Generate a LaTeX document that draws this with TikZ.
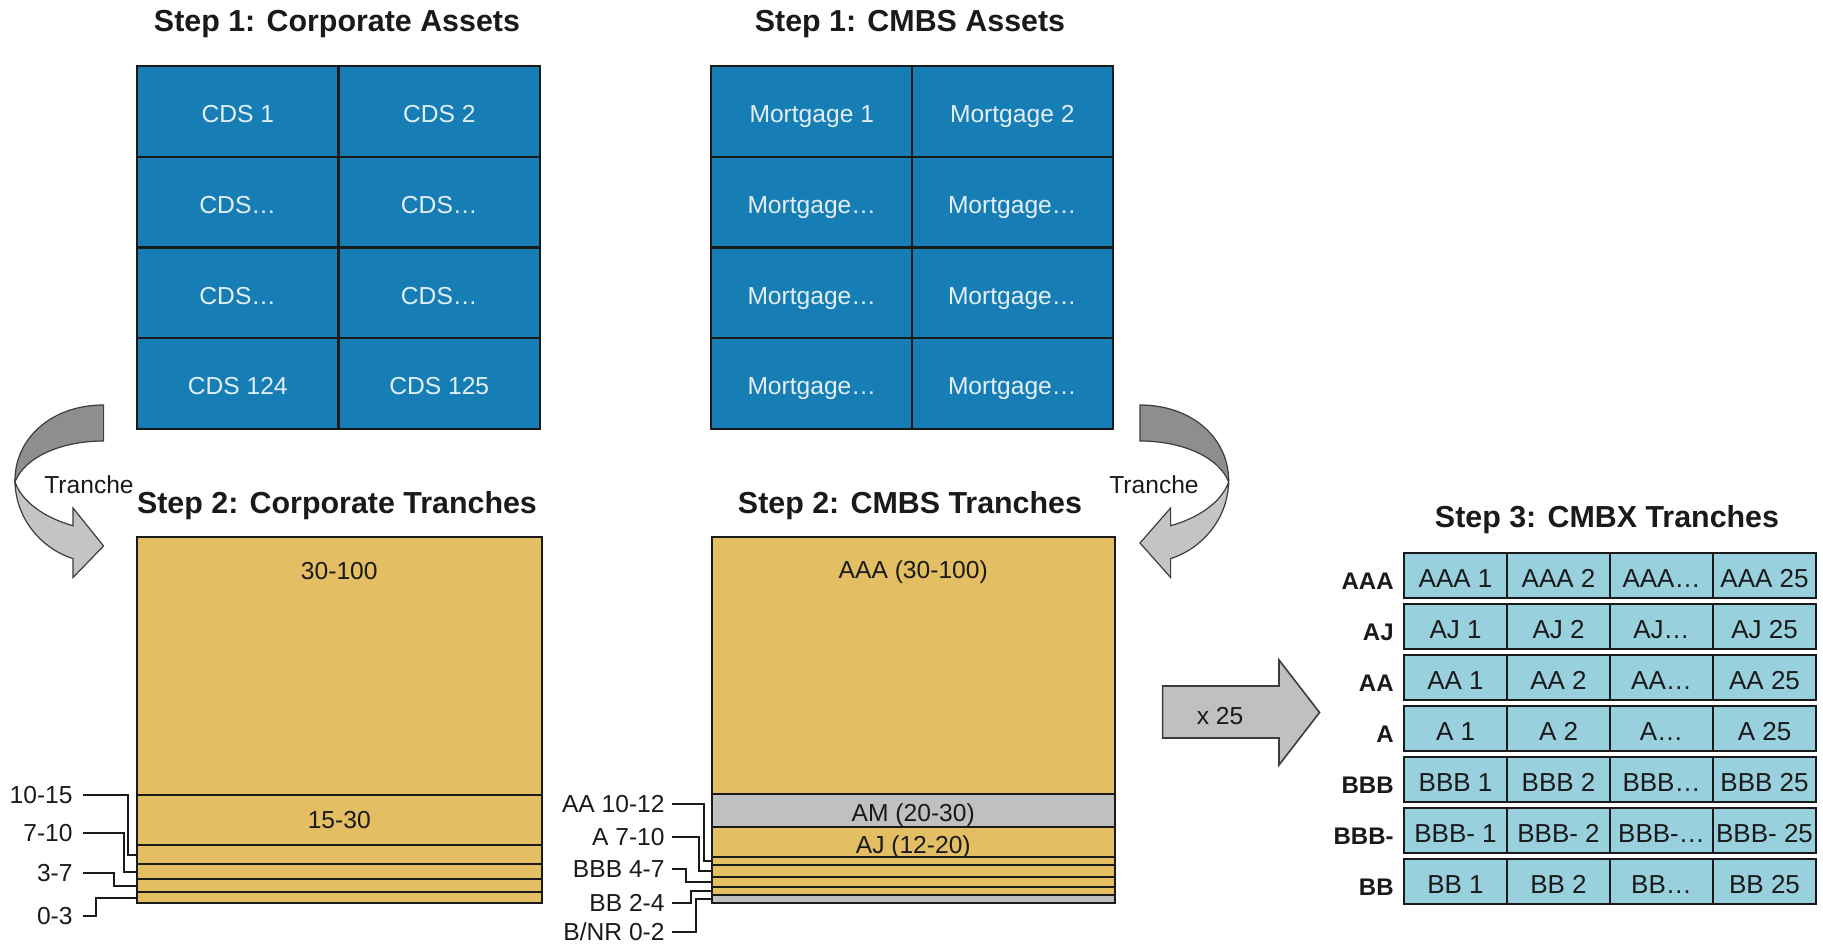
\documentclass[tikz,border=0pt]{standalone}
\usepackage{fontspec}
\setmainfont{Liberation Sans}
\definecolor{cblue}{RGB}{23,125,181}
\definecolor{cyel}{RGB}{228,190,98}
\definecolor{cgray}{RGB}{192,192,192}
\definecolor{cteal}{RGB}{152,208,222}
\definecolor{cline}{RGB}{26,26,26}
\definecolor{adark}{RGB}{142,142,142}
\definecolor{alight}{RGB}{196,196,196}
\definecolor{aedge}{RGB}{60,60,60}
\tikzset{
  every node/.style={font=\fontsize{12.3}{14}\selectfont, text=cline},
  steptitle/.style={font=\fontsize{15.2}{18}\selectfont\bfseries},
  bcell/.style={draw=cline, fill=cblue, line width=1pt, inner sep=0pt,
    minimum width=100.5pt, minimum height=45.375pt, text=white!88!cblue,
    text height=11.3pt, text depth=0pt},
  band/.style={draw=cline, fill=cyel, line width=1pt, inner sep=0pt},
  gband/.style={band, fill=cgray},
  lowtext/.style={text height=11pt, text depth=0pt},
  conn/.style={draw=cline, line width=1pt},
  corplab/.style={anchor=east, inner sep=5pt},
  cmbslab/.style={anchor=east, inner sep=3.5pt},
  tcell/.style={draw=cline, fill=cteal, line width=1pt, inner sep=0pt,
    minimum width=51.5pt, minimum height=22.5pt, font=\fontsize{13}{15}\selectfont,
    text height=12.3pt, text depth=0pt},
  rowlab/.style={anchor=east, inner sep=2pt, font=\fontsize{12}{14}\selectfont\bfseries},
  arrdark/.style={fill=adark, draw=aedge, line width=0.6pt},
  arrlight/.style={fill=alight, draw=aedge, line width=0.6pt},
  bigarrow/.style={fill=cgray, draw=aedge, line width=0.8pt}
}
\begin{document}
\begin{tikzpicture}[x=0.5pt, y=-0.5pt]
\useasboundingbox (0,0) rectangle (1823,945);

% ---------- titles ----------
\node[steptitle] (t1a) at (337,24) {Step 1: Corporate Assets};
\node[steptitle] (t1b) at (910,24) {Step 1: CMBS Assets};
\node[steptitle] (t2a) at (337,506) {Step 2: Corporate Tranches};
\node[steptitle] (t2b) at (910,506) {Step 2: CMBS Tranches};
\node[steptitle] (t3) at (1607,520) {Step 3: CMBX Tranches};

% ---------- step 1 grids ----------
\node[bcell] (ca1) at (237.75,111.4) {CDS 1};
\node[bcell] (ca2) at (439.25,111.4) {CDS 2};
\node[bcell] (ca3) at (237.75,202.1) {CDS…};
\node[bcell] (ca4) at (439.25,202.1) {CDS…};
\node[bcell] (ca5) at (237.75,292.9) {CDS…};
\node[bcell] (ca6) at (439.25,292.9) {CDS…};
\node[bcell] (ca7) at (237.75,383.6) {CDS 124};
\node[bcell] (ca8) at (439.25,383.6) {CDS 125};

\node[bcell] (cm1) at (811.75,111.4) {Mortgage 1};
\node[bcell] (cm2) at (1012.25,111.4) {Mortgage 2};
\node[bcell] (cm3) at (811.75,202.1) {Mortgage…};
\node[bcell] (cm4) at (1012.25,202.1) {Mortgage…};
\node[bcell] (cm5) at (811.75,292.9) {Mortgage…};
\node[bcell] (cm6) at (1012.25,292.9) {Mortgage…};
\node[bcell] (cm7) at (811.75,383.6) {Mortgage…};
\node[bcell] (cm8) at (1012.25,383.6) {Mortgage…};

% ---------- curved arrows ----------
\path[arrdark] (103.6,405) .. controls (50,405) and (14,440) .. (15,482)
  .. controls (24,458) and (60,441) .. (103.6,441) -- cycle;
\path[arrlight] (15,482) .. controls (16,522) and (45,550) .. (73,558.6)
  -- (73,577.5) -- (103.6,546) -- (73,508) -- (73,525.7)
  .. controls (45,518) and (22,502) .. (15,482) -- cycle;
\begin{scope}[shift={(1243.6,0)}, xscale=-1]
\path[arrdark] (103.6,405) .. controls (50,405) and (14,440) .. (15,482)
  .. controls (24,458) and (60,441) .. (103.6,441) -- cycle;
\path[arrlight] (15,482) .. controls (16,522) and (45,550) .. (73,558.6)
  -- (73,577.5) -- (103.6,543) -- (73,508) -- (73,525.7)
  .. controls (45,518) and (22,502) .. (15,482) -- cycle;
\end{scope}
\node (trL) at (89,485) {Tranche};
\node (trR) at (1154,485) {Tranche};

% ---------- corporate tranches ----------
\node[band, minimum width=202.25pt, minimum height=129pt] (T1) at (339.25,666) {};
\node[band, minimum width=202.25pt, minimum height=25pt] (T2) at (339.25,820) {15-30};
\node[band, minimum width=202.25pt, minimum height=9.5pt] (T3) at (339.25,854.5) {};
\node[band, minimum width=202.25pt, minimum height=7.5pt] (T4) at (339.25,871.5) {};
\node[band, minimum width=202.25pt, minimum height=6.5pt] (T5) at (339.25,885.5) {};
\node[band, minimum width=202.25pt, minimum height=5.5pt] (T6) at (339.25,897.5) {};
\node (T1t) at (339.25,571) {30-100};

\node[corplab] (l1) at (83,795) {10-15};
\node[corplab] (l2) at (83,833) {7-10};
\node[corplab] (l3) at (83,873) {3-7};
\node[corplab] (l4) at (83,916) {0-3};
\draw[conn] (l1.east) -| ([xshift=-4pt]T3.west) -- (T3.west);
\draw[conn] (l2.east) -| ([xshift=-6pt]T4.west) -- (T4.west);
\draw[conn] (l3.east) -| ([xshift=-11pt]T5.west) -- (T5.west);
\draw[conn] (l4.east) -| ([xshift=-20pt]T6.west) -- (T6.west);

% ---------- CMBS tranches ----------
\node[band, minimum width=201.75pt, minimum height=128.5pt] (B1) at (913.25,665.5) {};
\node[gband, lowtext, minimum width=201.75pt, minimum height=16.5pt] (B2) at (913.25,810.5) {AM (20-30)};
\node[band, lowtext, minimum width=201.75pt, minimum height=15pt] (B3) at (913.25,842) {AJ (12-20)};
\node[band, minimum width=201.75pt, minimum height=4pt] (B4) at (913.25,861) {};
\node[band, minimum width=201.75pt, minimum height=6pt] (B5) at (913.25,871) {};
\node[band, minimum width=201.75pt, minimum height=5pt] (B6) at (913.25,882) {};
\node[band, minimum width=201.75pt, minimum height=4pt] (B7) at (913.25,891) {};
\node[gband, minimum width=201.75pt, minimum height=4pt] (B8) at (913.25,899) {};
\node (B1t) at (913.25,572) {AAA (30-100)};

\node[cmbslab] (m1) at (672,804) {AA 10-12};
\node[cmbslab] (m2) at (672,837) {A 7-10};
\node[cmbslab] (m3) at (672,869) {BBB 4-7};
\node[cmbslab] (m4) at (672,903) {BB 2-4};
\node[cmbslab] (m5) at (672,932) {B/NR 0-2};
\draw[conn] (m1.east) -| ([xshift=-3.25pt]B4.west) -- (B4.west);
\draw[conn] (m2.east) -| ([xshift=-5.75pt]B5.west) -- (B5.west);
\draw[conn] (m3.east) -| ([xshift=-12.25pt]B6.west) -- (B6.west);
\draw[conn] (m4.east) -| ([xshift=-9.75pt]B7.west) -- (B7.west);
\draw[conn] (m5.east) -| ([xshift=-7.25pt]B8.west) -- (B8.west);

% ---------- x 25 arrow ----------
\path[bigarrow] (1162.6,686) -- (1279,686) -- (1279,660) -- (1319.5,712.5)
  -- (1279,765) -- (1279,738) -- (1162.6,738) -- cycle;
\node (x25) at (1220,716) {x 25};

% ---------- step 3 grid ----------
\foreach \lab [count=\i from 0] in {AAA,AJ,AA,A,BBB,BBB-,BB} {
  \pgfmathsetmacro{\yc}{575.5+51*\i}
  \node[rowlab] (rl\i) at (1398,\yc+6) {\lab};
  \node[tcell] (xa\i) at (1455.5,\yc) {\lab\ 1};
  \node[tcell] (xb\i) at (1558.5,\yc) {\lab\ 2};
  \node[tcell] (xc\i) at (1661.5,\yc) {\lab…};
  \node[tcell] (xd\i) at (1764.5,\yc) {\lab\ 25};
}
\end{tikzpicture}
\end{document}
